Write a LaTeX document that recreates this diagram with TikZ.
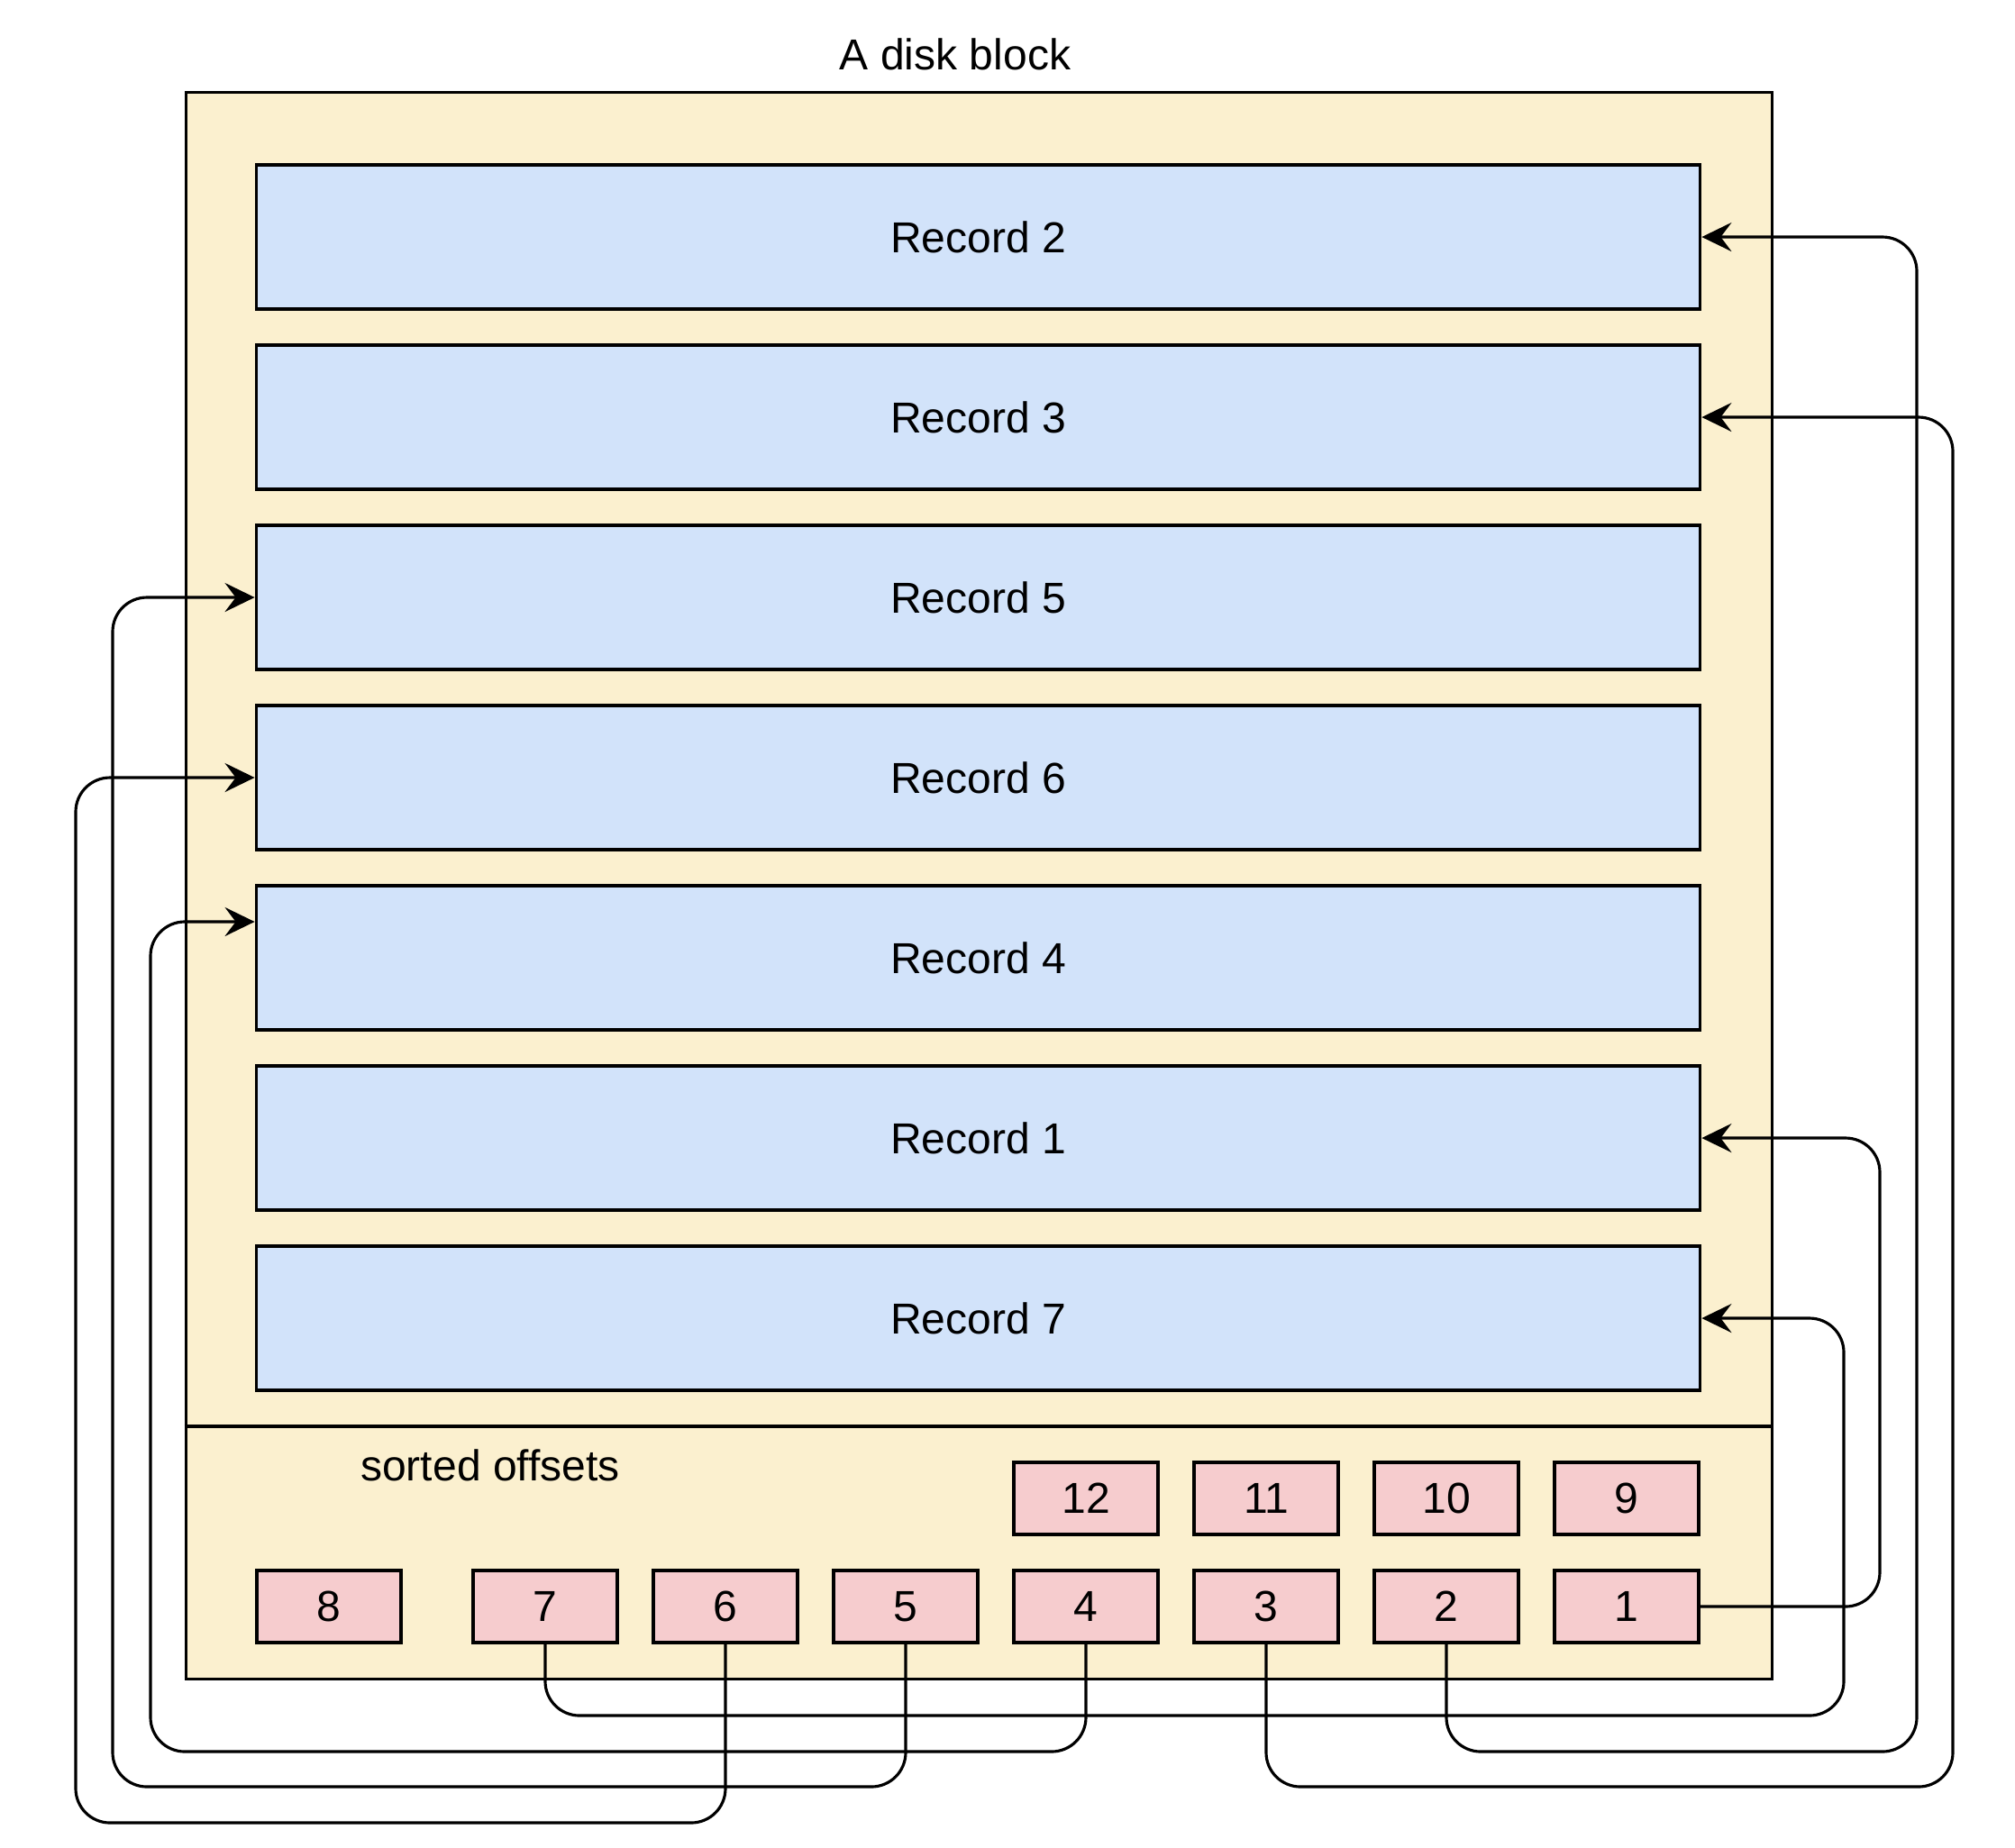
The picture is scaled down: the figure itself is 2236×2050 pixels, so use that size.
\documentclass[tikz,border=0pt]{standalone}
\usepackage{fontspec}
\setmainfont{Liberation Sans}
\usetikzlibrary{arrows.meta}
\definecolor{blockfill}{RGB}{251,240,207}
\definecolor{recfill}{RGB}{210,227,250}
\definecolor{offfill}{RGB}{246,204,206}
\tikzset{
  txt/.style={font=\fontsize{13.66pt}{16pt}\selectfont, inner sep=0pt},
  blockbox/.style={draw=black, fill=blockfill, line width=1.1pt, minimum width=17.59cm, minimum height=17.6cm, inner sep=0pt},
  recbox/.style={txt, draw=black, fill=recfill, line width=1.1pt, minimum width=16.01cm, minimum height=1.6cm},
  offbox/.style={txt, draw=black, fill=offfill, line width=1.1pt, minimum width=1.6cm, minimum height=0.8cm},
  conn/.style={draw=black, line width=0.9pt, rounded corners=0.38cm, -{Stealth[length=0.33cm,width=0.32cm,inset=0.12cm]}}
}
\begin{document}
\begin{tikzpicture}[x=0.01cm, y=-0.01cm]
\useasboundingbox (0,0) rectangle (2236,2050);
% outer block
\node[blockbox] (blk) at (1086.5,983) {};
\draw[line width=1.1pt] (blk.west |- 0,1583) -- (blk.east |- 0,1583);
\node[txt] (title) at (1060,60) {A disk block};
\node[txt] (sorted) at (544,1626) {sorted offsets};
% records
\node[recbox] (r2) at (1085.5,263) {Record 2};
\node[recbox] (r3) at (1085.5,463) {Record 3};
\node[recbox] (r5) at (1085.5,663) {Record 5};
\node[recbox] (r6) at (1085.5,863) {Record 6};
\node[recbox] (r4) at (1085.5,1063) {Record 4};
\node[recbox] (r1) at (1085.5,1263) {Record 1};
\node[recbox] (r7) at (1085.5,1463) {Record 7};
% offsets, top row
\node[offbox] (o12) at (1205,1663) {12};
\node[offbox] (o11) at (1405,1663) {11};
\node[offbox] (o10) at (1605,1663) {10};
\node[offbox] (o9) at (1805,1663) {9};
% offsets, bottom row
\node[offbox] (o8) at (365,1783) {8};
\node[offbox] (o7) at (605,1783) {7};
\node[offbox] (o6) at (805,1783) {6};
\node[offbox] (o5) at (1005,1783) {5};
\node[offbox] (o4) at (1205,1783) {4};
\node[offbox] (o3) at (1405,1783) {3};
\node[offbox] (o2) at (1605,1783) {2};
\node[offbox] (o1) at (1805,1783) {1};
% connectors
\draw[conn] (o1.east) -- ++(199,0) |- (r1.east);
\draw[conn] (o7.south) |- (2046,1904) |- (r7.east);
\draw[conn] (o4.south) |- (167,1944) |- ([yshift=0.4cm]r4.west);
\draw[conn] (o2.south) |- (2127,1944) |- (r2.east);
\draw[conn] (o5.south) |- (125,1983) |- (r5.west);
\draw[conn] (o3.south) |- (2167,1983) |- (r3.east);
\draw[conn] (o6.south) |- (84,2023) |- (r6.west);
\end{tikzpicture}
\end{document}
